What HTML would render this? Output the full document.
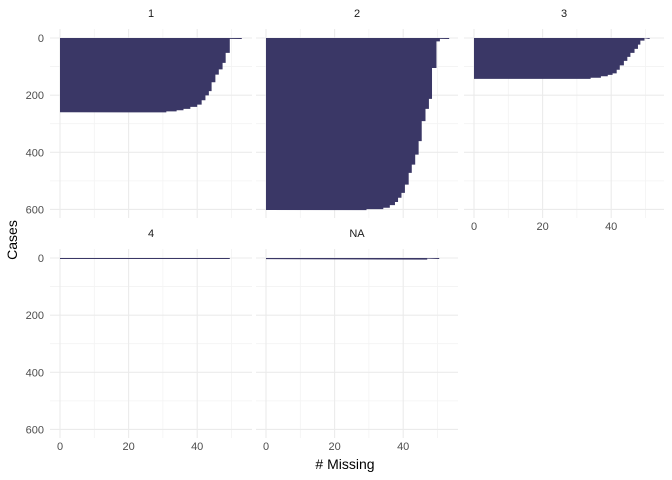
<!DOCTYPE html>
<html><head><meta charset="utf-8"><style>
body{margin:0;background:#fff;}
svg{display:block;font-family:"Liberation Sans",sans-serif;}
</style></head><body>
<svg id="chart" width="672" height="480"></svg>
<script>
// facet names
const facets = ["1","2","3","4","NA"];
// per-facet step profile: percent missing and cumulative case count at step end
const pct1 = [53,49.5,48.3,47.4,46.3,45.3,44.2,43.4,42.4,41.3,40,38,36,34,31];
const end1 = [3,52,87,110,128,155,186,201,218,233,241,248,253,257,260];
const pct2 = [53.4,50.7,49.7,48.4,47.5,46.5,45.4,44.5,43.5,42.5,41.6,40.5,39.5,38.5,37.6,36.1,34.2,29.3];
const end2 = [3,12,105,213,248,291,361,408,443,472,513,542,559,574,585,594,599,602];
const pct3 = [51.2,49.7,48.5,47.8,46.8,45.6,44.7,43.7,42.5,41.6,40.4,39,37,34];
const end3 = [1,9,23,38,52,66,80,96,111,124,129,134,139,143];
const pct4 = [49.5];
const end4 = [3];
const pctNA = [50.5,47];
const endNA = [2,4];
const xTicks = [0,20,40];
const xMinor = [10,30,50];
const yTicks = [0,200,400,600];
const yMinor = [100,300,500];

const NS="http://www.w3.org/2000/svg";
const svg=document.getElementById("chart");
function mk(tag,attrs,parent){const e=document.createElementNS(NS,tag);for(const k in attrs)e.setAttribute(k,attrs[k]);(parent||svg).appendChild(e);return e;}
const pxPerUnit=3.43, pxPerCase=0.2857;
const panels=[
 {x0:60,y0:38,l:50,r:252,t:29,b:218,p:pct1,e:end1,xl:false,yl:true},
 {x0:266,y0:38,l:256,r:458,t:29,b:218,p:pct2,e:end2,xl:false,yl:false},
 {x0:474,y0:38,l:464,r:664,t:29,b:218,p:pct3,e:end3,xl:true,yl:false},
 {x0:60,y0:258,l:50,r:252,t:249,b:438,p:pct4,e:end4,xl:true,yl:true},
 {x0:266,y0:258,l:256,r:458,t:249,b:438,p:pctNA,e:endNA,xl:true,yl:false}
];
panels.forEach((P,i)=>{
  const g=mk("g",{});
  
  
  const xs=v=>P.x0+v*pxPerUnit, ys=v=>P.y0+v*pxPerCase;
  yMinor.forEach(v=>mk("line",{x1:P.l,x2:P.r,y1:ys(v),y2:ys(v),stroke:"#f3f3f3","stroke-width":0.8},g));
  xMinor.forEach(v=>mk("line",{x1:xs(v),x2:xs(v),y1:P.t,y2:P.b,stroke:"#f3f3f3","stroke-width":0.8},g));
  yTicks.forEach(v=>mk("line",{x1:P.l,x2:P.r,y1:ys(v),y2:ys(v),stroke:"#ebebeb","stroke-width":1.1},g));
  xTicks.forEach(v=>mk("line",{x1:xs(v),x2:xs(v),y1:P.t,y2:P.b,stroke:"#ebebeb","stroke-width":1.1},g));
  // build one step-path per panel so there are no seams
  let d="M"+xs(0)+","+ys(0);
  let prev=0;
  P.p.forEach((pc,j)=>{
    d+=" L"+xs(pc)+","+ys(prev)+" L"+xs(pc)+","+Math.max(ys(P.e[j]),ys(prev)+1);
    prev=P.e[j];
  });
  d+=" L"+xs(0)+","+Math.max(ys(prev),ys(0)+1)+" Z";
  const bars=mk("path",{d:d,fill:"#3a3766"},g);
  
  
  const s=mk("text",{x:(P.l+P.r)/2,y:P.t-12,"text-anchor":"middle","font-size":11,fill:"#1a1a1a"},g);
  s.textContent=facets[i];
  
  
  if(P.yl){yTicks.forEach(v=>{const t=mk("text",{x:44,y:ys(v)+4,"text-anchor":"end","font-size":11,fill:"#4d4d4d"},g);t.textContent=v;
    
    });}
  if(P.xl){xTicks.forEach(v=>{const t=mk("text",{x:xs(v),y:P.b+12,"text-anchor":"middle","font-size":11,fill:"#4d4d4d"},g);t.textContent=v;
    
    });}
});
const xt=mk("text",{x:345,y:469,"text-anchor":"middle","font-size":14,fill:"#000"});
xt.textContent="# Missing";


const yt=mk("text",{x:17,y:240,"text-anchor":"middle","font-size":14,fill:"#000",transform:"rotate(-90 17 240)"});
yt.textContent="Cases";


</script>
</body></html>
